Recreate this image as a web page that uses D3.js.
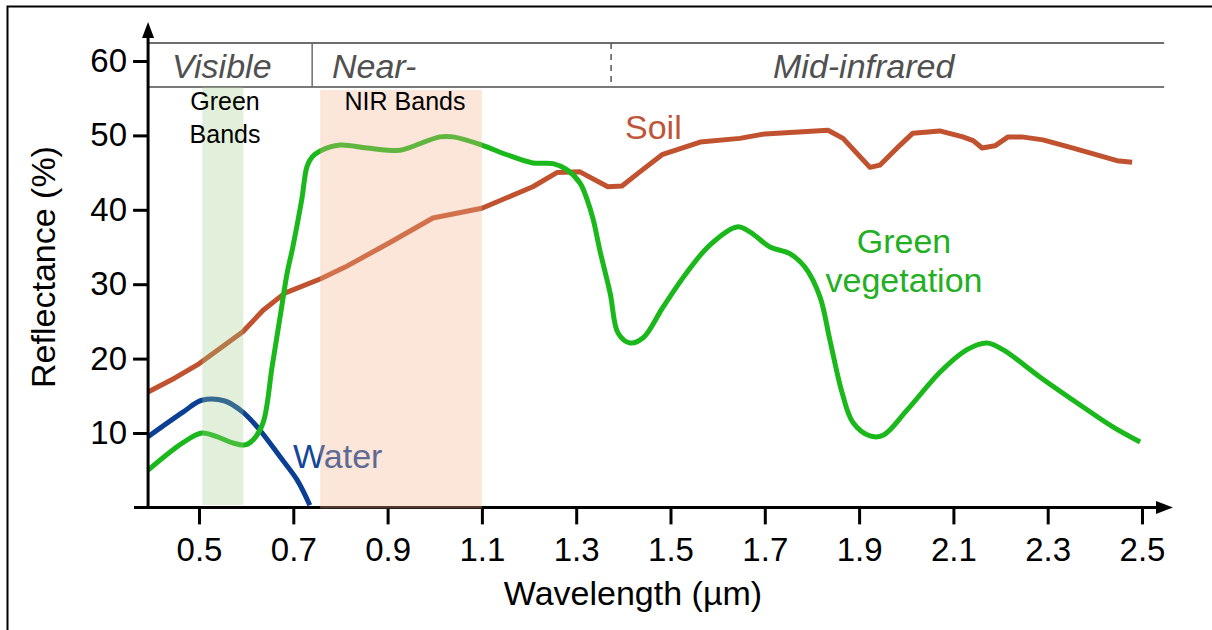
<!DOCTYPE html>
<html>
<head>
<meta charset="utf-8">
<script src="https://cdn.jsdelivr.net/npm/d3@7"></script>
<style>
  body { margin: 0; background: #fff; }
  svg { font-family: Arial, "Liberation Sans", sans-serif; display: block; }
</style>
</head>
<body>
<div id="output"></div>
<script>
// Wavelength (um) and reflectance (%)
var soilWave = [0.392, 0.449, 0.5, 0.593, 0.636, 0.682, 0.757, 0.81, 0.905, 0.996, 1.1, 1.208, 1.259, 1.308,
  1.367, 1.397, 1.435, 1.482, 1.563, 1.647, 1.7, 1.834, 1.866, 1.923, 1.944, 1.987, 2.014, 2.071, 2.12,
  2.142, 2.161, 2.188, 2.216, 2.245, 2.29, 2.354, 2.447, 2.479];
var soilRefl = [15.5, 17.4, 19.3, 23.6, 26.5, 28.8, 30.7, 32.3, 35.6, 38.9, 40.2, 43.1, 45, 45.1,
  43.1, 43.2, 45.1, 47.4, 49.1, 49.6, 50.2, 50.7, 49.6, 45.7, 46, 48.7, 50.3, 50.6, 49.8,
  49.3, 48.3, 48.6, 49.8, 49.8, 49.4, 48.3, 46.6, 46.4];

var waterWave = [0.392, 0.466, 0.506, 0.555, 0.593, 0.629, 0.672, 0.708, 0.735];
var waterRefl = [9.5, 12.8, 14.4, 14.3, 12.8, 10.4, 6.8, 3.7, 0.3];

var vegWave = [0.392, 0.466, 0.506, 0.538, 0.57, 0.598, 0.615, 0.636, 0.655, 0.672, 0.687, 0.699, 0.718,
  0.729, 0.74, 0.757, 0.799, 0.856, 0.926, 0.948, 1.011, 1.039, 1.1, 1.153, 1.208, 1.251, 1.28, 1.308,
  1.323, 1.336, 1.35, 1.372, 1.389, 1.414, 1.442, 1.484, 1.535, 1.584, 1.641, 1.669, 1.711, 1.753,
  1.785, 1.817, 1.838, 1.864, 1.887, 1.923, 1.951, 2.002, 2.072, 2.129, 2.171, 2.205, 2.284, 2.375,
  2.439, 2.496];
var vegRefl = [5.0, 8.7, 10.0, 9.5, 8.7, 8.4, 9.1, 11.4, 18.9, 25.6, 31.5, 35.0, 41.4,
  45.8, 47.1, 47.9, 48.7, 48.3, 48.0, 48.4, 49.8, 49.8, 48.7, 47.4, 46.3, 46.2, 45.4, 43.6,
  41.4, 38.7, 34.6, 28.8, 23.4, 22.1, 22.8, 26.9, 31.6, 35.3, 37.7, 37.0, 35.0, 34.1,
  32.3, 28.3, 22.5, 15.4, 11.4, 9.6, 9.7, 13.1, 18.2, 21.2, 22.1, 21.2, 17.5, 13.5,
  10.8, 8.8];

var xTicks = [0.5, 0.7, 0.9, 1.1, 1.3, 1.5, 1.7, 1.9, 2.1, 2.3, 2.5];
var yTicks = [10, 20, 30, 40, 50, 60];

// spectral regions in the header strip (wavelength limits)
var regionNames = ['Visible', 'Near-', 'Mid-infrared'];
var regionStart = [0.392, 0.74, 1.374];
var regionEnd = [0.74, 1.374, 2.547];

// highlighted bands
var bandNames = [['Green', 'Bands'], ['NIR Bands']];
var bandStart = [0.507, 0.757];
var bandEnd = [0.594, 1.1];

function zip(a, b){
  return a.map((d, i) => [d, b[i]]);
}

function renderGraph(){
  var width = 1212;
  var height = 630;

  var svg = d3.select('#output')
  .append('svg')
  .attr('width', width)
  .attr('height', height);

  var x = d3.scaleLinear().domain([0.5, 2.5]).range([199, 1142]);
  var y = d3.scaleLinear().domain([0, 60]).range([507.4, 61]);

  var x0 = x(0.392);
  var y0 = y(0);

  // frame (only top and left edges show in the picture)
  svg.append('path')
  .attr('d', 'M7.5,630 L7.5,6.5 L1212,6.5')
  .attr('fill', 'none')
  .attr('stroke', '#000')
  .attr('stroke-width', 2);

  // header strip
  var head = svg.append('g');
  var headTop = 43, headBottom = 87;
  head.append('line')
  .attr('x1', x0).attr('x2', x(regionEnd[2]))
  .attr('y1', headTop).attr('y2', headTop)
  .attr('stroke', '#6e6e6e').attr('stroke-width', 2);
  head.append('line')
  .attr('x1', x0).attr('x2', x(regionEnd[2]))
  .attr('y1', headBottom).attr('y2', headBottom)
  .attr('stroke', '#7a7a7a').attr('stroke-width', 2);
  head.append('line')
  .attr('x1', x(regionStart[1])).attr('x2', x(regionStart[1]))
  .attr('y1', headTop).attr('y2', headBottom)
  .attr('stroke', '#6e6e6e').attr('stroke-width', 1.5);
  head.append('line')
  .attr('x1', x(regionStart[2])).attr('x2', x(regionStart[2]))
  .attr('y1', headTop).attr('y2', headBottom)
  .attr('stroke', '#555').attr('stroke-width', 1.5)
  .attr('stroke-dasharray', '6,5');
  var headX = [172, 332, 773];
  head.selectAll('text')
  .data(regionNames)
  .enter()
  .append('text')
  .attr('x', (d, i) => headX[i])
  .attr('y', 78)
  .attr('font-size', 34)
  .attr('font-style', 'italic')
  .attr('fill', '#505050')
  .text((d) => d);

  // curves
  var line = d3.line()
  .x((d) => x(d[0]))
  .y((d) => y(d[1]));

  svg.append('path')
  .datum(zip(soilWave, soilRefl))
  .attr('d', line.curve(d3.curveLinear))
  .attr('fill', 'none')
  .attr('stroke', '#c0522f')
  .attr('stroke-width', 5)
  .attr('stroke-linejoin', 'round');

  svg.append('path')
  .datum(zip(waterWave, waterRefl))
  .attr('d', line.curve(d3.curveCatmullRom.alpha(0.5)))
  .attr('fill', 'none')
  .attr('stroke', '#0b3f94')
  .attr('stroke-width', 5);

  svg.append('path')
  .datum(zip(vegWave, vegRefl))
  .attr('d', line.curve(d3.curveCatmullRom.alpha(0.5)))
  .attr('fill', 'none')
  .attr('stroke', '#1ab81a')
  .attr('stroke-width', 5);

  // curve labels
  svg.append('text')
  .attr('x', 625).attr('y', 139)
  .attr('font-size', 34)
  .attr('fill', '#bf5538')
  .text('Soil');
  svg.append('text')
  .attr('x', 293).attr('y', 468)
  .attr('font-size', 34)
  .attr('fill', '#14469a')
  .text('Water');
  svg.append('text')
  .attr('x', 904).attr('y', 253)
  .attr('text-anchor', 'middle')
  .attr('font-size', 34)
  .attr('fill', '#22b022')
  .text('Green');
  svg.append('text')
  .attr('x', 904).attr('y', 292)
  .attr('text-anchor', 'middle')
  .attr('font-size', 34)
  .attr('fill', '#22b022')
  .text('vegetation');

  // X-axis
  var xAxis = d3.axisBottom(x)
  .tickValues(xTicks)
  .tickFormat(d3.format('.1f'))
  .tickSize(17)
  .tickPadding(13);

  var gx = svg.append('g')
  .attr('transform', `translate(0, ${y0})`)
  .call(xAxis)
  .attr('font-family', null)
  .attr('font-size', 33);
  gx.select('.domain').remove();
  gx.selectAll('.tick line').attr('stroke-width', 3);

  // Y-axis
  var yAxis = d3.axisLeft(y)
  .tickValues(yTicks)
  .tickSize(15)
  .tickPadding(6);

  var gy = svg.append('g')
  .attr('transform', `translate(${x0}, 0)`)
  .call(yAxis)
  .attr('font-family', null)
  .attr('font-size', 33);
  gy.select('.domain').remove();
  gy.selectAll('.tick line').attr('stroke-width', 3);

  // axis lines with arrow heads
  svg.append('line')
  .attr('x1', 134).attr('x2', 1160)
  .attr('y1', y0).attr('y2', y0)
  .attr('stroke', '#000').attr('stroke-width', 3);
  svg.append('path')
  .attr('d', `M1173,${y0} L1156,${y0 - 6.5} L1156,${y0 + 6.5} Z`)
  .attr('fill', '#000');
  svg.append('line')
  .attr('x1', x0).attr('x2', x0)
  .attr('y1', y0 + 1.5).attr('y2', 35)
  .attr('stroke', '#000').attr('stroke-width', 3);
  svg.append('path')
  .attr('d', `M${x0},22 L${x0 - 6},38 L${x0 + 6},38 Z`)
  .attr('fill', '#000');

  // highlighted bands, laid over the curves
  var bandTop = [87, 90];
  var bandBottom = [505, 508.5];
  var bandFill = ['rgb(160, 206, 135)', 'rgb(244, 180, 140)'];
  var bandAlpha = [0.3, 0.33];
  svg.selectAll('.band')
  .data(bandNames)
  .enter()
  .append('rect')
  .attr('class', 'band')
  .attr('x', (d, i) => x(bandStart[i]))
  .attr('width', (d, i) => x(bandEnd[i]) - x(bandStart[i]))
  .attr('y', (d, i) => bandTop[i])
  .attr('height', (d, i) => bandBottom[i] - bandTop[i])
  .attr('fill', (d, i) => bandFill[i])
  .attr('opacity', (d, i) => bandAlpha[i]);

  var bandLabelX = [225, 405];
  bandNames.forEach((lines, i) => {
    lines.forEach((t, j) => {
      svg.append('text')
      .attr('x', bandLabelX[i])
      .attr('y', 110 + j * 33)
      .attr('text-anchor', 'middle')
      .attr('font-size', 25)
      .attr('fill', '#000')
      .text(t);
    });
  });

  // axis titles
  svg.append('text')
  .attr('x', 633).attr('y', 605)
  .attr('text-anchor', 'middle')
  .attr('font-size', 34)
  .text('Wavelength (µm)');
  svg.append('text')
  .attr('transform', 'translate(55, 267) rotate(-90)')
  .attr('text-anchor', 'middle')
  .attr('font-size', 34)
  .text('Reflectance (%)');
}

document.addEventListener('DOMContentLoaded', renderGraph);
</script>
</body>
</html>
